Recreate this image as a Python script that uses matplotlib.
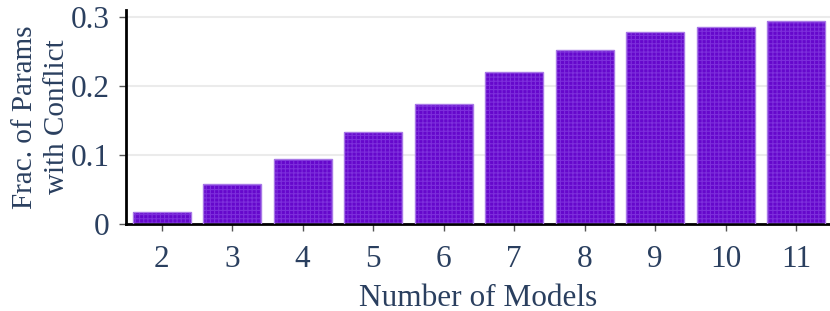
import matplotlib.pyplot as plt

plt.rcParams['font.family'] = ['Liberation Serif', 'DejaVu Serif']
plt.rcParams['hatch.linewidth'] = 0.8

n_models = ['2', '3', '4', '5', '6', '7', '8', '9', '10', '11']
frac_conflict = [0.018, 0.058, 0.094, 0.133, 0.174, 0.220, 0.252, 0.278, 0.286, 0.294]
y_ticks = [0, 0.1, 0.2, 0.3]
y_ticklabels = ['0', '0.1', '0.2', '0.3']

txt = '#2a3f5f'

fig = plt.figure(figsize=(8.3, 3.11), dpi=100)
ax = fig.add_axes([126.4 / 830, 87 / 311, 1 - 126.4 / 830, (311 - 87 - 10) / 311])

x = list(range(len(n_models)))
ax.bar(x, frac_conflict, width=0.82, color='#6508cc', edgecolor='#7d2fdc',
       hatch='++++', linewidth=0, zorder=2)
ax.bar(x, frac_conflict, width=0.82, fill=False, edgecolor='#a878e6',
       linewidth=1.0, zorder=3)

ax.set_xlim(-0.5, 9.48)
ax.set_ylim(0, 0.31)
ax.set_xticks(x)
ax.set_xticklabels(n_models)
ax.set_yticks(y_ticks)
ax.set_yticklabels(y_ticklabels)

ax.grid(axis='y', color='#ebebeb', linewidth=1.5, zorder=0)
ax.set_axisbelow(True)
for s in ['top', 'right']:
    ax.spines[s].set_visible(False)
for s in ['left', 'bottom']:
    ax.spines[s].set_linewidth(2)
    ax.spines[s].set_color('black')

ax.tick_params(axis='both', labelsize=22.5, labelcolor=txt, color='#555555',
               length=5, width=1)
ax.tick_params(axis='x', pad=10)
ax.tick_params(axis='y', pad=7)

ax.set_xlabel('Number of Models', fontsize=22.5, color=txt, labelpad=7)
ax.set_ylabel('Frac. of Params\nwith Conflict', fontsize=21, color=txt,
              linespacing=1.3, va='center')
ax.yaxis.set_label_coords((41 - 126.4) / (830 - 126.4), 0.5)

fig.savefig('out.png', dpi=100)
